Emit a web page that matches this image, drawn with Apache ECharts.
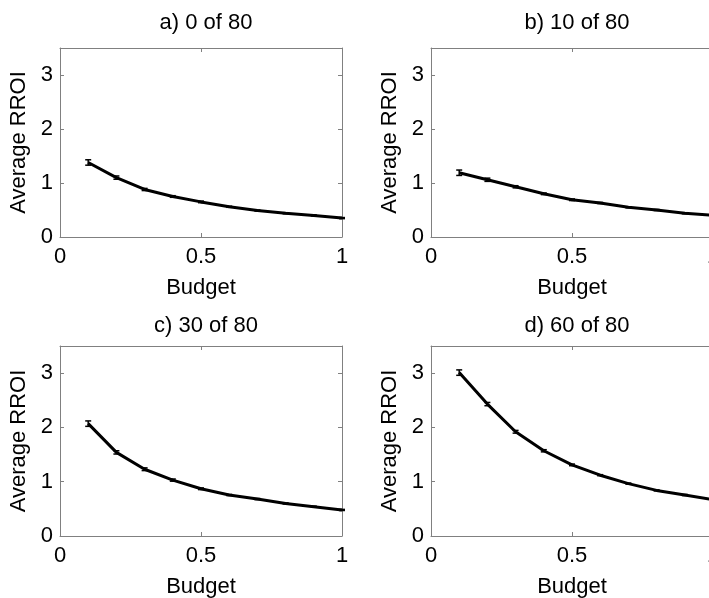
<!DOCTYPE html>
<html>
<head>
<meta charset="utf-8">
<script src="https://cdn.jsdelivr.net/npm/echarts@6/dist/echarts.min.js"></script>
<style>html,body{margin:0;padding:0;background:#fff}#c{width:709px;height:598px}</style>
</head>
<body>
<div id="c"></div>
<script>
const budget = [0.1, 0.2, 0.3, 0.4, 0.5, 0.6, 0.7, 0.8, 0.9, 1.0];
const titles = ['a) 0 of 80', 'b) 10 of 80', 'c) 30 of 80', 'd) 60 of 80'];
const roiA = [1.38, 1.10, 0.88, 0.75, 0.65, 0.56, 0.49, 0.44, 0.40, 0.35];
const roiB = [1.19, 1.06, 0.93, 0.80, 0.69, 0.63, 0.55, 0.50, 0.44, 0.40];
const roiC = [2.07, 1.54, 1.23, 1.03, 0.87, 0.755, 0.68, 0.60, 0.54, 0.48];
const roiD = [3.01, 2.43, 1.92, 1.57, 1.31, 1.12, 0.965, 0.84, 0.755, 0.67];
const errA = [0.05, 0.03, 0.02, 0.015, 0.015, 0.01, 0.01, 0.01, 0.01, 0.01];
const errB = [0.05, 0.03, 0.02, 0.015, 0.015, 0.01, 0.01, 0.01, 0.01, 0.01];
const errC = [0.05, 0.03, 0.025, 0.02, 0.015, 0.01, 0.01, 0.01, 0.01, 0.01];
const errD = [0.05, 0.03, 0.025, 0.02, 0.015, 0.01, 0.01, 0.01, 0.01, 0.01];
const xTicks = ['0', '0.5', '1'];
const yTicks = ['0', '1', '2', '3'];

const values = [roiA, roiB, roiC, roiD];
const errors = [errA, errB, errC, errD];
const FONT = 'Liberation Sans, Arial, Helvetica, sans-serif';
const AX = '#808080';

const gridPos = [
  {left: 60, top: 48, width: 282, height: 189},
  {left: 431, top: 48, width: 282, height: 189},
  {left: 60, top: 346, width: 282, height: 190},
  {left: 431, top: 346, width: 282, height: 190}
];
const titlePos = [
  {left: 201, top: 7},
  {left: 572, top: 7},
  {left: 201, top: 310},
  {left: 572, top: 310}
];

const grids = [], xAxes = [], yAxes = [], series = [], titleOpts = [];
for (let i = 0; i < 4; i++) {
  grids.push(Object.assign({containLabel: false, outerBoundsMode: 'none'}, gridPos[i]));
  titleOpts.push({
    text: titles[i], left: titlePos[i].left, top: titlePos[i].top, textAlign: 'center',
    textStyle: {fontFamily: FONT, fontSize: 22, fontWeight: 'normal', color: '#000'}
  });
  xAxes.push({
    type: 'value', gridIndex: i, min: 0, max: 1, interval: 0.5, position: 'bottom',
    name: 'Budget', nameLocation: 'middle', nameGap: 40,
    nameTextStyle: {fontFamily: FONT, fontSize: 22, color: '#000'},
    axisLine: {show: true, onZero: false, lineStyle: {color: AX, width: 1}},
    axisTick: {show: true, inside: true, length: 4, lineStyle: {color: AX}},
    axisLabel: {fontFamily: FONT, fontSize: 22, color: '#000', margin: 9,
      formatter: v => xTicks[Math.round(v * 2)]},
    splitLine: {show: false}
  });
  xAxes.push({
    type: 'value', gridIndex: i, min: 0, max: 1, interval: 0.5, position: 'top',
    axisLine: {show: true, onZero: false, lineStyle: {color: AX, width: 1}},
    axisTick: {show: true, inside: true, length: 4, lineStyle: {color: AX}},
    axisLabel: {show: false}, splitLine: {show: false}
  });
  yAxes.push({
    type: 'value', gridIndex: i, min: 0, max: 3.5, interval: 1, position: 'left',
    name: 'Average RROI', nameLocation: 'middle', nameGap: 30, nameRotate: 90,
    nameTextStyle: {fontFamily: FONT, fontSize: 22, color: '#000'},
    axisLine: {show: true, onZero: false, lineStyle: {color: AX, width: 1}},
    axisTick: {show: true, inside: true, length: 4, lineStyle: {color: AX}},
    axisLabel: {fontFamily: FONT, fontSize: 22, color: '#000', margin: 7, showMaxLabel: false,
      formatter: v => (Number.isInteger(v) ? yTicks[v] : '')},
    splitLine: {show: false}
  });
  yAxes.push({
    type: 'value', gridIndex: i, min: 0, max: 3.5, interval: 1, position: 'right',
    axisLine: {show: true, onZero: false, lineStyle: {color: AX, width: 1}},
    axisTick: {show: true, inside: true, length: 4, lineStyle: {color: AX}},
    axisLabel: {show: false}, splitLine: {show: false}
  });
  const pts = budget.map((b, k) => [b, values[i][k]]);
  series.push({
    type: 'line', xAxisIndex: 2 * i, yAxisIndex: 2 * i, data: pts,
    smooth: false, symbol: 'none',
    lineStyle: {color: '#000', width: 3}, clip: true, z: 3
  });
  const errData = budget.map((b, k) => [b, values[i][k] - errors[i][k], values[i][k] + errors[i][k]]);
  series.push({
    type: 'custom', xAxisIndex: 2 * i, yAxisIndex: 2 * i, data: errData, z: 4,
    renderItem: function (params, api) {
      const x = api.value(0);
      const lo = api.coord([x, api.value(1)]);
      const hi = api.coord([x, api.value(2)]);
      const cw = 3;
      const st = {stroke: '#000', lineWidth: 1.5};
      return {
        type: 'group',
        children: [
          {type: 'line', shape: {x1: lo[0], y1: lo[1], x2: hi[0], y2: hi[1]}, style: st},
          {type: 'line', shape: {x1: lo[0] - cw, y1: lo[1], x2: lo[0] + cw, y2: lo[1]}, style: st},
          {type: 'line', shape: {x1: hi[0] - cw, y1: hi[1], x2: hi[0] + cw, y2: hi[1]}, style: st}
        ]
      };
    }
  });
}

const chart = echarts.init(document.getElementById('c'), null, {renderer: 'canvas'});
chart.setOption({
  animation: false,
  backgroundColor: '#fff',
  title: titleOpts,
  grid: grids,
  xAxis: xAxes,
  yAxis: yAxes,
  series: series
});
</script>
</body>
</html>
